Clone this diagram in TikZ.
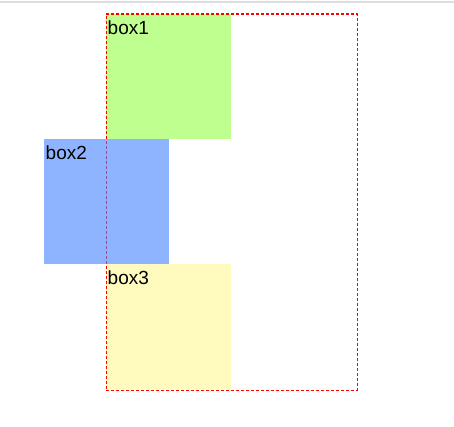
\documentclass[tikz,border=0pt]{standalone}
\usepackage{fontspec}
\setmainfont{Liberation Sans}
\usetikzlibrary{positioning}
\definecolor{boxgreen}{RGB}{191,255,143}
\definecolor{boxblue}{RGB}{68,130,255}
\definecolor{boxyellow}{RGB}{255,250,190}
\definecolor{topline}{RGB}{220,220,225}
\begin{document}
\begin{tikzpicture}[x=1pt,y=-1pt,
  box/.style={draw=none, rectangle, minimum width=125pt, minimum height=125pt, inner sep=0pt, anchor=north west},
  boxlabel/.style={anchor=north west, inner sep=0pt, font=\fontsize{19}{22}\selectfont},
  frame/.style={draw=red, line width=1.1pt, dash pattern=on 3pt off 2pt}]
  \useasboundingbox (0,0) rectangle (454,427);
  \fill[topline] (0,1) rectangle (454,3.5);
  % the boxes inside the container
  \node[box, fill=boxgreen] (box1) at (106,14) {};
  \node[box, fill=boxyellow] (box3) at (106,264) {};
  % outer container
  \node[frame, rectangle, minimum width=251pt, minimum height=376pt, inner sep=0pt, anchor=north west] (container) at (105.5,13.5) {};
  % box2 sticks out to the left
  \node[box, fill=boxblue, fill opacity=0.6] (box2) at (44,139) {};
  \node[boxlabel] (lab1) at ([xshift=1.5pt,yshift=-7pt]box1.north west) {box1};
  \node[boxlabel] (lab2) at ([xshift=1.5pt,yshift=-7pt]box2.north west) {box2};
  \node[boxlabel] (lab3) at ([xshift=1.5pt,yshift=-7pt]box3.north west) {box3};
\end{tikzpicture}
\end{document}
